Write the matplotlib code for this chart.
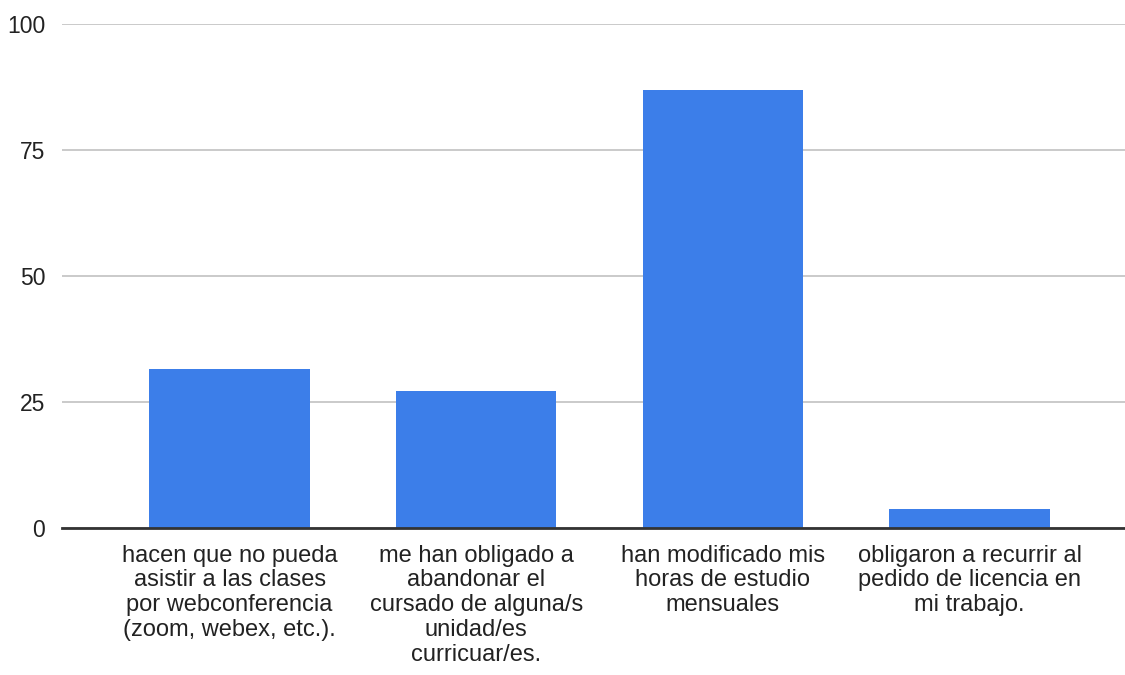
import matplotlib
matplotlib.use("Agg")
import matplotlib.pyplot as plt

# ---- data ---------------------------------------------------------------
categories = [
    "hacen que no pueda\nasistir a las clases\npor webconferencia\n(zoom, webex, etc.).",
    "me han obligado a\nabandonar el\ncursado de alguna/s\nunidad/es\ncurricuar/es.",
    "han modificado mis\nhoras de estudio\nmensuales",
    "obligaron a recurrir al\npedido de licencia en\nmi trabajo.",
]
values = [31.6, 27.2, 86.9, 3.7]
yticks = [0, 25, 50, 75, 100]

plt.rcParams["font.family"] = ["Liberation Sans", "DejaVu Sans"]

fig = plt.figure(figsize=(11.25, 6.75), dpi=100)
ax = fig.add_axes([0.055, 0.218, 0.945, 0.747])

x = list(range(len(categories)))
ax.bar(x, values, width=0.65, color="#3c7ee9", zorder=3)

ax.set_ylim(0, 100)
ax.set_xlim(-0.68, 3.63)
ax.set_yticks(yticks)
ax.set_yticklabels([str(t) for t in yticks], fontsize=16.5, color="#222222")
ax.set_xticks(x)
ax.set_xticklabels(categories, fontsize=17, color="#222222", linespacing=1.17,
                   va="top")
ax.tick_params(axis="both", length=0)
ax.tick_params(axis="y", pad=12)
ax.tick_params(axis="x", pad=12)

ax.grid(axis="y", color="#c6c6c6", linewidth=1.3, zorder=0)
for side in ["top", "right", "left"]:
    ax.spines[side].set_visible(False)
ax.spines["bottom"].set_color("#333333")
ax.spines["bottom"].set_linewidth(2)
ax.spines["bottom"].set_zorder(4)

fig.savefig("out.png", dpi=100)
